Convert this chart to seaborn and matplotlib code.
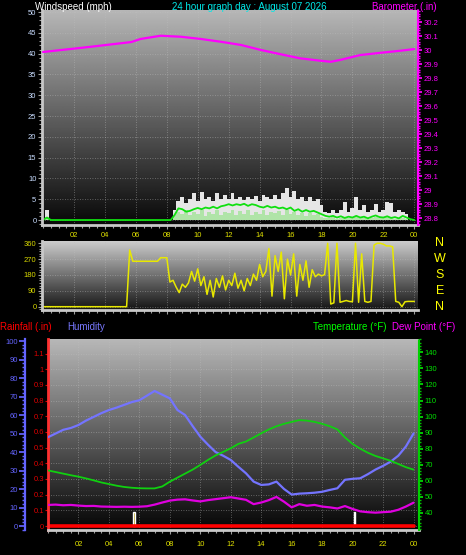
import numpy as np
import matplotlib
matplotlib.use("Agg")
import matplotlib.pyplot as plt
import matplotlib.transforms as mtransforms
from matplotlib.ticker import MultipleLocator, FixedLocator, FuncFormatter
import seaborn as sns

W, H = 466, 555

# ---- wind speed (mph), 15 minute samples 00:00 .. 24:00 ----
wind_hours = np.arange(0, 24.01, 0.25)
gust_mph = [0, 2.4, 0, 0, 0, 0, 0, 0, 0, 0, 0, 0, 0, 0, 0, 0, 0, 0,
            0, 0, 0, 0, 0, 0, 0, 0, 0, 0, 0, 0, 0, 0, 0, 0,
            2.4, 4.5, 5.5, 4.0, 5.0, 6.5, 4.5, 6.8, 5.0, 5.5, 4.5, 6.5, 5.0, 6.0,
            5.0, 6.5, 5.0, 5.5, 4.8, 5.6, 5.0, 5.8, 4.5, 6.0, 5.5, 5.0, 6.0, 5.0,
            6.5, 7.6, 5.5, 7.0, 5.0, 5.5, 4.5, 5.5, 4.5, 5.0, 3.5, 2.0, 1.8, 2.4,
            1.6, 2.4, 4.4, 2.0, 3.0, 5.6, 2.4, 3.5, 2.0, 2.4, 3.8, 2.0, 2.4, 4.4,
            4.2, 2.0, 2.4, 2.0, 1.5, 0, 0]
wind_mph = [0, 0.8, 0, 0, 0, 0, 0, 0, 0, 0, 0, 0, 0, 0, 0, 0, 0, 0,
            0, 0, 0, 0, 0, 0, 0, 0, 0, 0, 0, 0, 0, 0, 0, 0,
            1.2, 2.0, 1.5, 2.4, 1.2, 2.0, 1.5, 2.4, 1.0, 2.0, 1.5, 2.4, 1.2, 2.0,
            1.6, 2.4, 1.2, 2.2, 1.5, 2.4, 1.2, 2.0, 1.5, 2.4, 1.2, 2.0, 1.6, 2.2,
            1.2, 2.4, 1.5, 2.0, 1.2, 1.8, 1.0, 1.6, 1.2, 1.4, 0.8, 0.6, 0.4, 0.8,
            0.3, 0.6, 0.8, 0.4, 0.6, 0.8, 0.4, 0.6, 0.3, 0.6, 0.8, 0.4, 0.6, 0.8,
            0.6, 0.3, 0.6, 0.4, 0.3, 0, 0]
avg_mph = [0, 0.6, 0, 0, 0, 0, 0, 0, 0, 0, 0, 0, 0, 0, 0, 0, 0, 0,
           0, 0, 0, 0, 0, 0, 0, 0, 0, 0, 0, 0, 0, 0, 0, 0,
           1.2, 2.8, 2.6, 2.0, 2.2, 2.6, 2.9, 2.6, 3.0, 2.8, 3.2, 2.8, 3.3, 3.5,
           3.8, 3.5, 3.8, 3.6, 3.9, 3.4, 3.8, 3.6, 3.2, 3.0, 3.4, 3.0, 3.2, 2.8,
           3.0, 2.6, 3.0, 2.2, 2.6, 2.0, 2.4, 2.0, 2.2, 1.8, 1.4, 1.0, 0.8, 1.0,
           0.6, 0.9, 0.5, 0.8, 0.6, 1.0, 0.6, 0.8, 0.4, 0.8, 1.1, 0.7, 0.6, 0.9,
           0.5, 0.7, 0.4, 1.0, 0.6, 0.2, 0]

# ---- barometer (in) ----
baro_hours = [0.0, 2.9, 5.7, 6.3, 7.6, 8.9, 10.2, 11.5, 12.8, 14.1, 15.4,
              16.6, 17.9, 18.6, 19.2, 20.5, 21.8, 23.1, 24.0]
baro_in = [29.986, 30.021, 30.057, 30.079, 30.102, 30.095, 30.079, 30.059,
           30.036, 30.0, 29.969, 29.941, 29.924, 29.916, 29.929, 29.964,
           29.98, 29.995, 30.007]

# ---- wind direction (deg), 12 minute samples ----
dir_hours = np.arange(0, 24.01, 0.2)
dir_deg = [0, 0, 0, 0, 0, 0, 0, 0, 0, 0, 0, 0, 0, 0,
           0, 0, 0, 0, 0, 0, 0, 0, 0, 0, 0, 0, 0, 0,
           322, 258, 258, 258, 258, 258, 258, 258, 258, 258,
           278, 278, 278,
           140, 150, 112, 80, 128, 110, 135, 200, 145, 215,
           120, 170, 70, 150, 55, 160, 110, 175, 95, 150,
           120, 190, 105, 150, 90, 160, 120, 185, 150, 240,
           170, 200, 330, 60, 290, 200, 310, 45, 270, 180,
           300, 60, 240, 150, 260, 110, 210, 170, 185, 175,
           182, 360, 15, 22, 360, 25, 30, 35, 30, 28,
           360, 25, 300, 30, 25, 30, 350, 360, 360, 355,
           345, 345, 340, 30, 25, 0, 28, 30, 30, 30]

# ---- humidity / temperature / dew point, 30 minute samples ----
hum_hours = np.arange(0, 24.01, 0.5)
humidity = [48, 50, 52, 53, 54.6, 57, 59, 61, 62.7, 64, 65.5, 67, 68, 70.5,
            73, 71, 69, 62.7, 60, 54, 48.3, 44, 40, 38, 35.7, 32, 28.5, 24,
            22.2, 22.5, 24, 20, 17, 17.5, 17.7, 18, 18.5, 19.5, 20.4, 25,
            25.5, 25.8, 28, 30.5, 32.5, 34.8, 38, 43, 50]
temp_f = [66.5, 65.5, 64.5, 63.5, 62.6, 61.5, 60.3, 59, 58, 57, 56.2, 55.7,
          55.4, 55.3, 55.3, 56.5, 59.5, 62, 64.5, 67, 69.9, 73, 75.8, 78,
          80.3, 83, 84.5, 87, 89.6, 92, 94, 95.5, 96.7, 97.8, 97.5, 96.7,
          95.5, 94, 92, 87, 83, 80, 77.5, 75.5, 74, 72.5, 70.5, 68.5, 67]
dew_f = [45, 45.2, 44.8, 45, 44.6, 44.3, 44.4, 44, 43.9, 43.8, 43.9, 43.8,
         43.9, 44.2, 45.2, 46.5, 47.7, 48.3, 48.5, 47.8, 47.2, 48, 48.6,
         49.2, 49.8, 49, 48.2, 45.5, 46.5, 48, 50, 47, 43.5, 45.5, 44.5, 45,
         44, 43.5, 42.8, 44.3, 42.5, 41, 40.5, 40.2, 40.5, 40.8, 42, 44, 46.4]

rain_hours = [0, 24]
rain_in = [0, 0]
rain_mark_hours = [5.65, 20.1]
rain_mark_in = [0.09, 0.09]

hour_ticks = [2, 4, 6, 8, 10, 12, 14, 16, 18, 20, 22, 24]
hour_labels = ['02', '04', '06', '08', '10', '12', '14', '16', '18', '20', '22', '00']
compass = ['N', 'W', 'S', 'E', 'N']
compass_deg = [360, 270, 180, 90, 0]

sns.set_theme(style='dark', rc={'figure.facecolor': 'black', 'axes.facecolor': 'black'})
plt.rcParams['font.family'] = ['Liberation Sans', 'DejaVu Sans']

fig = plt.figure(figsize=(W / 100, H / 100), dpi=100)
fig.patch.set_facecolor('black')


def box(l, t, r, b):
    return [l / W, 1 - b / H, (r - l) / W, (b - t) / H]


def shade(ax, top, bottom):
    g = np.linspace(top, bottom, 256).reshape(-1, 1)
    ax.imshow(g, cmap='gray', vmin=0, vmax=1, aspect='auto', extent=[0, 1, 0, 1],
              transform=ax.transAxes, zorder=0, interpolation='bilinear')


def base_style(ax):
    for s in ax.spines.values():
        s.set_visible(False)
    ax.spines['left'].set_visible(True)
    ax.spines['bottom'].set_visible(True)
    ax.spines['left'].set_color('#c8c8c8')
    ax.spines['bottom'].set_color('#c8c8c8')
    ax.spines['left'].set_linewidth(2)
    ax.spines['bottom'].set_linewidth(2)
    ax.set_axisbelow(True)
    ax.grid(True, which='major', color='#c0c0c0', linestyle=(0, (1, 2)),
            linewidth=0.6, alpha=0.55)
    ax.set_xticks(hour_ticks)
    ax.xaxis.set_minor_locator(MultipleLocator(0.5))
    ax.tick_params(axis='both', which='both', color='#a0a0a0', width=0.8,
                   labelsize=5.5, direction='out')
    ax.tick_params(axis='both', which='major', length=3, bottom=True, left=True)
    ax.tick_params(axis='both', which='minor', length=2, bottom=True, left=True)


fmt_g = FuncFormatter(lambda v, p: f"{round(v, 1):g}")

# ---------------- top panel: wind speed + barometer ----------------
ax1 = fig.add_axes(box(42, 10, 418, 225))
shade(ax1, 0.72, 0.03)
ax1.fill_between(wind_hours, 0, gust_mph, step='mid', color='#e6e6e6', lw=0, zorder=1)
ax1.fill_between(wind_hours, 0, wind_mph, step='mid', color='#b0e4a8', lw=0, zorder=1.5)
sns.lineplot(x=wind_hours, y=avg_mph, ax=ax1, color='#10e010', linewidth=1.3)
ax1.set_xlim(-0.07, 24.24)
ax1.set_ylim(-1.2, 50.5)
base_style(ax1)
ax1.set_xticklabels(hour_labels)
ax1.yaxis.set_major_locator(MultipleLocator(5))
ax1.yaxis.set_minor_locator(MultipleLocator(1))
ax1.tick_params(axis='x', labelcolor='#e0e000', pad=2)
ax1.tick_params(axis='y', labelcolor='#c8dcff', pad=1)
ax1.set_xlabel('')
ax1.set_ylabel('')

ax1b = ax1.twinx()
sns.lineplot(x=baro_hours, y=baro_in, ax=ax1b, color='#ff00ff', linewidth=1.6)
ax1b.set_ylim(28.75, 30.286)
ax1b.yaxis.set_major_locator(FixedLocator(np.round(np.arange(28.8, 30.21, 0.1), 1)))
ax1b.yaxis.set_minor_locator(MultipleLocator(0.02))
ax1b.yaxis.set_major_formatter(fmt_g)
for s in ax1b.spines.values():
    s.set_visible(False)
ax1b.spines['right'].set_visible(True)
ax1b.spines['right'].set_color('#ff00ff')
ax1b.spines['right'].set_linestyle((0, (1, 1)))
ax1b.spines['right'].set_linewidth(1.5)
ax1b.tick_params(axis='y', which='major', colors='#ff00ff', length=3, labelsize=5.5, pad=1)
ax1b.tick_params(axis='y', which='minor', colors='#ff00ff', length=1.5)
ax1b.set_ylabel('')
ax1b.grid(False)

# ---------------- middle panel: wind direction ----------------
ax2 = fig.add_axes(box(42, 241, 418, 310))
shade(ax2, 0.80, 0.08)
sns.lineplot(x=dir_hours, y=dir_deg, ax=ax2, color='#e8e800', linewidth=1.1)
ax2.set_xlim(-0.07, 24.24)
ax2.set_ylim(-18.8, 373)
base_style(ax2)
ax2.set_xticklabels([])
ax2.yaxis.set_major_locator(FixedLocator([0, 90, 180, 270, 360]))
ax2.yaxis.set_minor_locator(MultipleLocator(15))
ax2.tick_params(axis='y', labelcolor='#d8d800', pad=1)
ax2.set_xlabel('')
ax2.set_ylabel('')
trans = mtransforms.blended_transform_factory(ax2.transAxes, ax2.transData)
for lab, d in zip(compass, compass_deg):
    ax2.text(1.058, d, lab, transform=trans, color='#ffff00', fontsize=9,
             ha='center', va='center')

# ---------------- bottom panel: rain, humidity, temperature ----------------
ax3 = fig.add_axes(box(48, 339, 419, 530))
shade(ax3, 0.72, 0.02)
ax3.bar(rain_mark_hours, rain_mark_in, width=0.08, color='#a89400', zorder=2)
sns.lineplot(x=rain_hours, y=rain_in, ax=ax3, color='#ff0000', linewidth=2.6)
ax3.set_xlim(0, 24.36)
ax3.set_ylim(-0.0255, 1.193)
base_style(ax3)
ax3.set_xticklabels(hour_labels)
ax3.yaxis.set_major_locator(FixedLocator(np.round(np.arange(0, 1.21, 0.1), 1)))
ax3.yaxis.set_major_formatter(fmt_g)
ax3.yaxis.set_minor_locator(FixedLocator([]))
ax3.spines['left'].set_color('#ff3030')
ax3.spines['left'].set_linestyle((0, (1, 1)))
ax3.tick_params(axis='x', labelcolor='#e0e000', pad=5)
ax3.tick_params(axis='y', labelcolor='#e00000', color='#e00000', length=2, pad=1)
ax3.set_xlabel('')
ax3.set_ylabel('')

ax3h = ax3.twinx()
sns.lineplot(x=hum_hours, y=humidity, ax=ax3h, color='#7474ff', linewidth=1.6)
ax3h.set_ylim(-2.16, 101.1)
ax3h.yaxis.tick_left()
for s in ax3h.spines.values():
    s.set_visible(False)
ax3h.spines['left'].set_visible(True)
ax3h.spines['left'].set_position(('outward', 16.5))
ax3h.spines['left'].set_color('#6464ff')
ax3h.spines['left'].set_linewidth(1.6)
ax3h.yaxis.set_major_locator(MultipleLocator(10))
ax3h.yaxis.set_minor_locator(MultipleLocator(2))
ax3h.tick_params(axis='y', which='major', colors='#6464ff', length=4, labelsize=5.5, pad=1)
ax3h.tick_params(axis='y', which='minor', colors='#6464ff', length=2)
ax3h.set_ylabel('')
ax3h.grid(False)

ax3t = ax3.twinx()
sns.lineplot(x=hum_hours, y=temp_f, ax=ax3t, color='#10d010', linewidth=1.3)
sns.lineplot(x=hum_hours, y=dew_f, ax=ax3t, color='#e000e0', linewidth=1.6)
ax3t.set_ylim(29.4, 148.3)
for s in ax3t.spines.values():
    s.set_visible(False)
ax3t.spines['right'].set_visible(True)
ax3t.spines['right'].set_color('#00d000')
ax3t.spines['right'].set_linestyle((0, (1, 1)))
ax3t.spines['right'].set_linewidth(1.5)
ax3t.yaxis.set_major_locator(FixedLocator(np.arange(40, 141, 10)))
ax3t.yaxis.set_minor_locator(MultipleLocator(2))
ax3t.tick_params(axis='y', which='major', colors='#00e000', length=3, labelsize=5.5, pad=1)
ax3t.tick_params(axis='y', which='minor', colors='#00c000', length=1.5)
ax3t.set_ylabel('')
ax3t.grid(False)

# ---------------- titles ----------------
def ftext(x, y, s, color, **kw):
    fig.text(x / W, 1 - y / H, s, color=color, fontsize=7, va='center', ha='left', **kw)


ftext(35, 6.5, 'Windspeed (mph)', '#ffffff')
ftext(172, 6.5, '24 hour graph day : August 07 2026', '#00e8e8')
ftext(372, 6.5, 'Barometer (.in)', '#ff00ff')
ftext(0.5, 327.5, 'Rainfall (.in)', '#ff0000')
ftext(67, 327.5, 'Humidity', '#7878ff')
ftext(313, 327.5, 'Temperature (\u00b0F)', '#00ff00')
ftext(392, 327.5, 'Dew Point (\u00b0F)', '#ff00ff')

fig.savefig('out.png', dpi=100, facecolor='black')
